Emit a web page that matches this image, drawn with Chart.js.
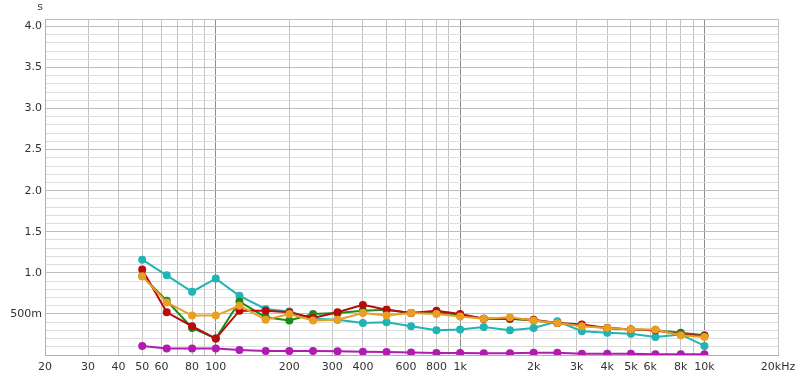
<!DOCTYPE html>
<html>
<head>
<meta charset="utf-8">
<script src="https://cdn.jsdelivr.net/npm/chart.js@4/dist/chart.umd.min.js"></script>
<style>
  html, body { margin: 0; padding: 0; background: #fff; }
  #wrap { width: 800px; height: 381px; }
</style>
</head>
<body>
<div id="wrap"><canvas id="chart"></canvas></div>
<script>
// third-octave band centres (Hz)
const freqs = [50, 63, 80, 100, 125, 160, 200, 250, 315, 400, 500, 630, 800, 1000,
               1250, 1600, 2000, 2500, 3150, 4000, 5000, 6300, 8000, 10000];

// reverberation times (s) per band
const cyanT    = [1.16, 0.97, 0.77, 0.93, 0.72, 0.56, 0.53, 0.44, 0.43, 0.39, 0.40, 0.35,
                  0.30, 0.31, 0.34, 0.30, 0.33, 0.41, 0.29, 0.27, 0.26, 0.22, 0.25, 0.11];
const greenT   = [0.96, 0.66, 0.33, 0.20, 0.65, 0.46, 0.42, 0.50, 0.51, 0.54, 0.55, 0.51,
                  0.52, 0.49, 0.44, 0.44, 0.42, 0.39, 0.36, 0.33, 0.31, 0.30, 0.27, 0.24];
const redT     = [1.04, 0.52, 0.35, 0.20, 0.54, 0.54, 0.52, 0.45, 0.52, 0.61, 0.55, 0.51,
                  0.54, 0.50, 0.44, 0.44, 0.43, 0.39, 0.37, 0.33, 0.31, 0.30, 0.25, 0.23];
const orangeT  = [0.96, 0.64, 0.48, 0.48, 0.60, 0.43, 0.50, 0.42, 0.43, 0.51, 0.48, 0.51,
                  0.50, 0.47, 0.44, 0.46, 0.42, 0.39, 0.35, 0.33, 0.31, 0.31, 0.24, 0.22];
const magentaT = [0.11, 0.08, 0.08, 0.08, 0.06, 0.05, 0.05, 0.05, 0.045, 0.04, 0.037, 0.03,
                  0.024, 0.024, 0.022, 0.022, 0.028, 0.028, 0.016, 0.014, 0.014, 0.008, 0.01, 0.008];

// x axis ticks and their labels
const xTicks = [20, 30, 40, 50, 60, 70, 80, 90, 100, 200, 300, 400, 500, 600, 700, 800, 900,
                1000, 2000, 3000, 4000, 5000, 6000, 7000, 8000, 9000, 10000, 20000];
const xLabels = {20: '20', 30: '30', 40: '40', 50: '50', 60: '60', 80: '80', 100: '100',
                 200: '200', 300: '300', 400: '400', 600: '600', 800: '800', 1000: '1k',
                 2000: '2k', 3000: '3k', 4000: '4k', 5000: '5k', 6000: '6k', 8000: '8k',
                 10000: '10k', 20000: '20kHz'};
const darkLines = [100, 1000, 10000];

// y axis: grid every 0.1 s, labels every 0.5 s
const yMax = 4.09;
const yLabels = {5: '500m', 10: '1.0', 15: '1.5', 20: '2.0', 25: '2.5', 30: '3.0', 35: '3.5', 40: '4.0'};

function series(values, color) {
    return {
        data: freqs.map((f, i) => ({ x: f, y: values[i] })),
        borderColor: color,
        backgroundColor: color,
        borderWidth: 2,
        pointRadius: 3,
        pointHoverRadius: 3,
        tension: 0
    };
}

// small "s" unit label above the y axis
const unitLabel = {
    id: 'unitLabel',
    afterDraw(chart) {
        const c = chart.ctx;
        c.save();
        c.font = '11px "DejaVu Sans"';
        c.fillStyle = '#444';
        c.textAlign = 'center';
        c.textBaseline = 'middle';
        c.fillText('s', 40, 7);
        c.restore();
    }
};

const ctx = document.getElementById('chart').getContext('2d');
new Chart(ctx, {
    type: 'line',
    data: {
        // first dataset is drawn on top
        datasets: [
            series(orangeT, '#e8a024'),
            series(redT, '#b80c0c'),
            series(greenT, '#1c8a1c'),
            series(cyanT, '#22b4b4'),
            series(magentaT, '#b01cb0')
        ]
    },
    options: {
        responsive: true,
        maintainAspectRatio: false,
        animation: false,
        layout: { padding: { top: 19, right: 22, left: 0, bottom: 0 } },
        plugins: { legend: { display: false }, tooltip: { enabled: false } },
        scales: {
            x: {
                type: 'logarithmic',
                min: 20,
                max: 20000,
                afterBuildTicks(scale) {
                    scale.ticks = xTicks.map(v => ({ value: v }));
                },
                afterFit(scale) {
                    scale.height = 26;
                    scale.paddingLeft = 0;
                    scale.paddingRight = 0;
                },
                ticks: {
                    autoSkip: false,
                    maxRotation: 0,
                    padding: 6,
                    color: '#333',
                    font: { family: 'DejaVu Sans', size: 11 },
                    callback: v => xLabels[v] || ''
                },
                grid: {
                    drawTicks: false,
                    color: c => darkLines.includes(c.tick.value) ? '#8c8c8c' : '#c4c4c4',
                    lineWidth: 1
                },
                border: { color: '#b0b0b0' }
            },
            y: {
                min: 0,
                max: yMax,
                afterBuildTicks(scale) {
                    const t = [];
                    for (let i = 0; i <= 40; i++) t.push({ value: i / 10 });
                    t.push({ value: yMax });
                    scale.ticks = t;
                },
                afterFit(scale) { scale.width = 45; },
                ticks: {
                    autoSkip: false,
                    padding: 3,
                    color: '#333',
                    font: { family: 'DejaVu Sans', size: 11 },
                    callback: v => {
                        const t = Math.round(v * 10);
                        if (Math.abs(v * 10 - t) > 0.01) return '';
                        return yLabels[t] || '';
                    }
                },
                grid: {
                    drawTicks: false,
                    color: c => {
                        const v = c.tick.value;
                        const t = Math.round(v * 10);
                        if (Math.abs(v * 10 - t) > 0.01) return '#bdbdbd';
                        return t % 5 === 0 ? '#bdbdbd' : '#dedede';
                    },
                    lineWidth: 1
                },
                border: { color: '#b0b0b0' }
            }
        }
    },
    plugins: [unitLabel]
});
</script>
</body>
</html>
